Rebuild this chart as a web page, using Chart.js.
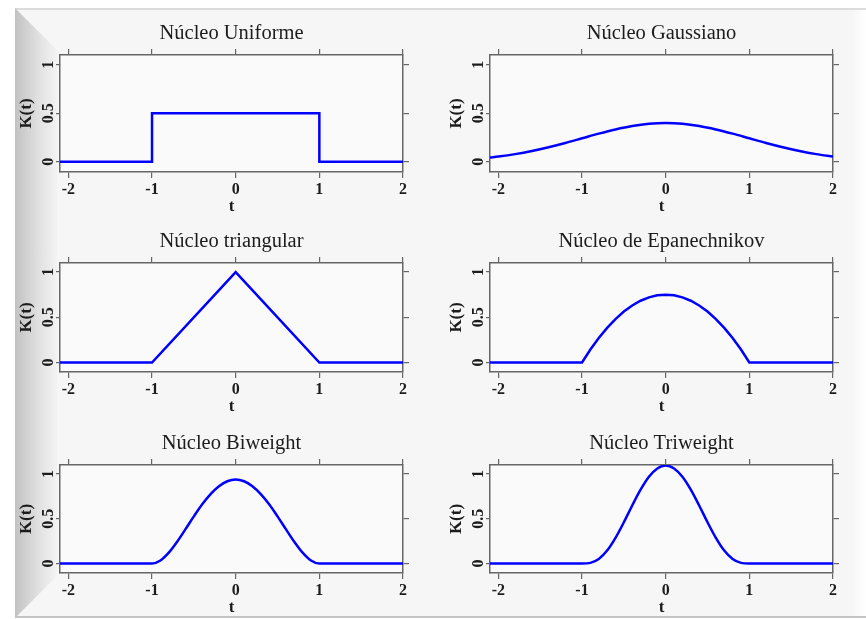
<!DOCTYPE html>
<html>
<head>
<meta charset="utf-8">
<script src="https://cdn.jsdelivr.net/npm/chart.js@4.4.1/dist/chart.umd.min.js"></script>
<style>
  html, body { margin: 0; padding: 0; background: #fff; }
  #page { position: relative; width: 866px; height: 619px; overflow: hidden; }
  #frame { position: absolute; left: 15px; top: 8px; width: 851px; height: 610px; background: #f6f6f6;
    border-top: 2px solid #dcdcdc; border-bottom: 2px solid #c4c4c4; box-sizing: border-box; }
  #bevel { position: absolute; left: 15px; top: 8px; width: 42px; height: 610px;
    background: linear-gradient(to right, #c2c2c2, #e0e0e0 55%, #f3f3f3);
    clip-path: polygon(0 0, 100% 42px, 100% calc(100% - 42px), 0 100%); }
  #bevelR { position: absolute; right: 0; top: 10px; width: 14px; height: 606px;
    background: linear-gradient(to right, #f6f6f6, #ffffff); }
  canvas { position: absolute; }
</style>
</head>
<body>
<div id="page">
  <div id="frame"></div>
  <div id="bevel"></div>
  <div id="bevelR"></div>
</div>
<script>
(() => {
  'use strict'

  // Axes
  const xTicks = [-2, -1, 0, 1, 2]
  const yTicks = [0, 0.5, 1]
  const xRange = [-2.1, 2]
  const yRange = [-0.105, 1.1]

  const titles = [
    'Núcleo Uniforme',
    'Núcleo Gaussiano',
    'Núcleo triangular',
    'Núcleo de Epanechnikov',
    'Núcleo Biweight',
    'Núcleo Triweight'
  ]

  // Curves
  const uniformT = [-2.1, -1, -1, 1, 1, 2]
  const uniformK = [0, 0, 0.5, 0.5, 0, 0]

  const gaussT = [-2.1, -2, -1.8, -1.6, -1.4, -1.2, -1, -0.8, -0.6, -0.4, -0.2, 0,
    0.2, 0.4, 0.6, 0.8, 1, 1.2, 1.4, 1.6, 1.8, 2]
  const gaussK = [0.044, 0.054, 0.079, 0.111, 0.150, 0.194, 0.242, 0.290, 0.333, 0.368, 0.391, 0.399,
    0.391, 0.368, 0.333, 0.290, 0.242, 0.194, 0.150, 0.111, 0.079, 0.054]

  const triT = [-2.1, -1, 0, 1, 2]
  const triK = [0, 0, 1, 0, 0]

  const smoothT = [-2.1, -1, -0.9, -0.8, -0.7, -0.6, -0.5, -0.4, -0.3, -0.2, -0.1, 0,
    0.1, 0.2, 0.3, 0.4, 0.5, 0.6, 0.7, 0.8, 0.9, 1, 2]
  const epanK = [0, 0, 0.143, 0.270, 0.383, 0.480, 0.563, 0.630, 0.683, 0.720, 0.743, 0.750,
    0.743, 0.720, 0.683, 0.630, 0.563, 0.480, 0.383, 0.270, 0.143, 0, 0]
  const biweightK = [0, 0, 0.034, 0.122, 0.244, 0.384, 0.527, 0.662, 0.776, 0.864, 0.919, 0.938,
    0.919, 0.864, 0.776, 0.662, 0.527, 0.384, 0.244, 0.122, 0.034, 0, 0]
  const triweightK = [0, 0, 0.008, 0.051, 0.145, 0.287, 0.461, 0.648, 0.824, 0.968, 1.061, 1.094,
    1.061, 0.968, 0.824, 0.648, 0.461, 0.287, 0.145, 0.051, 0.008, 0, 0]

  const series = [
    [uniformT, uniformK, false],
    [gaussT, gaussK, true],
    [triT, triK, false],
    [smoothT, epanK, false],
    [smoothT, biweightK, true],
    [smoothT, triweightK, true]
  ]

  // panel boxes
  const cols = [
    { left: 0, width: 430, rightW: 27 },
    { left: 430, width: 436, rightW: 33 }
  ]
  const rows = [
    { top: 0, height: 218, topH: 55, bottomH: 46, tPad: 1 },
    { top: 218, height: 202, topH: 45, bottomH: 48, tPad: 3 },
    { top: 420, height: 199, topH: 45, bottomH: 46, tPad: 1 }
  ]

  const serif = '"Liberation Serif", "Times New Roman", serif'
  const ink = '#1c1c1c'
  const axisGrey = '#666'

  const tickAxis = (extra) => Object.assign({
    type: 'linear',
    grid: { display: true, drawOnChartArea: false, drawTicks: true, tickLength: 6, color: axisGrey, lineWidth: 1.2 },
    border: { display: true, color: axisGrey, width: 1.5 }
  }, extra)

  const page = document.getElementById('page')

  titles.forEach((title, i) => {
    const col = cols[i % 2]
    const row = rows[Math.floor(i / 2)]
    const canvas = document.createElement('canvas')
    canvas.width = col.width
    canvas.height = row.height
    canvas.style.left = col.left + 'px'
    canvas.style.top = row.top + 'px'
    page.appendChild(canvas)

    const [ts, ks, smooth] = series[i]

    const panelText = {
      id: 'panelText',
      beforeDraw(chart) {
        const { ctx, chartArea: a } = chart
        ctx.save()
        ctx.fillStyle = '#fafafa'
        ctx.fillRect(a.left, a.top, a.right - a.left, a.bottom - a.top)
        ctx.restore()
      },
      afterDraw(chart) {
        const { ctx, chartArea: a } = chart
        const ys = chart.scales.y
        ctx.save()
        ctx.fillStyle = ink
        // title
        ctx.font = '20.5px ' + serif
        ctx.textAlign = 'center'
        ctx.textBaseline = 'alphabetic'
        ctx.fillText(title, (a.left + a.right) / 2, a.top - 16.5)
        // y tick labels, rotated
        ctx.font = 'bold 16px ' + serif
        yTicks.forEach(v => {
          ctx.save()
          ctx.translate(a.left - 7, ys.getPixelForValue(v))
          ctx.rotate(-Math.PI / 2)
          ctx.fillText(String(v), 0, 0)
          ctx.restore()
        })
        // y title
        ctx.font = 'bold 17px ' + serif
        ctx.textBaseline = 'middle'
        ctx.translate(a.left - 33, (a.top + a.bottom) / 2)
        ctx.rotate(-Math.PI / 2)
        ctx.fillText('K(t)', 0, 0)
        ctx.restore()
      }
    }

    new Chart(canvas, {
      type: 'line',
      data: {
        datasets: [{
          data: ts.map((t, j) => ({ x: t, y: ks[j] })),
          borderColor: '#0000ff',
          borderWidth: 2.5,
          pointRadius: 0,
          fill: false,
          tension: 0,
          cubicInterpolationMode: smooth ? 'monotone' : 'default'
        }]
      },
      options: {
        responsive: false,
        animation: false,
        layout: { padding: 0 },
        plugins: {
          legend: { display: false },
          title: { display: false },
          tooltip: { enabled: false }
        },
        scales: {
          x: tickAxis({
            position: 'bottom',
            min: xRange[0],
            max: xRange[1],
            afterBuildTicks: s => { s.ticks = xTicks.map(v => ({ value: v })) },
            afterFit: s => { s.height = row.bottomH },
            ticks: {
              autoSkip: false, maxRotation: 0, padding: 2, color: ink,
              font: { family: serif, size: 16, weight: 'bold' }
            },
            title: {
              display: true, text: 't', color: ink,
              font: { family: serif, size: 17, weight: 'bold' },
              padding: { top: 0, bottom: row.tPad }
            }
          }),
          x2: tickAxis({
            position: 'top',
            min: xRange[0],
            max: xRange[1],
            afterBuildTicks: s => { s.ticks = xTicks.map(v => ({ value: v })) },
            afterFit: s => { s.height = row.topH },
            ticks: { display: false }
          }),
          y: tickAxis({
            position: 'left',
            min: yRange[0],
            max: yRange[1],
            afterBuildTicks: s => { s.ticks = yTicks.map(v => ({ value: v })) },
            afterFit: s => { s.width = 60 },
            grid: { display: true, drawOnChartArea: false, drawTicks: true, tickLength: 4, color: axisGrey, lineWidth: 1.2 },
            ticks: { display: false }
          }),
          y2: tickAxis({
            position: 'right',
            min: yRange[0],
            max: yRange[1],
            afterBuildTicks: s => { s.ticks = yTicks.map(v => ({ value: v })) },
            afterFit: s => { s.width = col.rightW },
            ticks: { display: false }
          })
        }
      },
      plugins: [panelText]
    })
  })
})()
</script>
</body>
</html>
